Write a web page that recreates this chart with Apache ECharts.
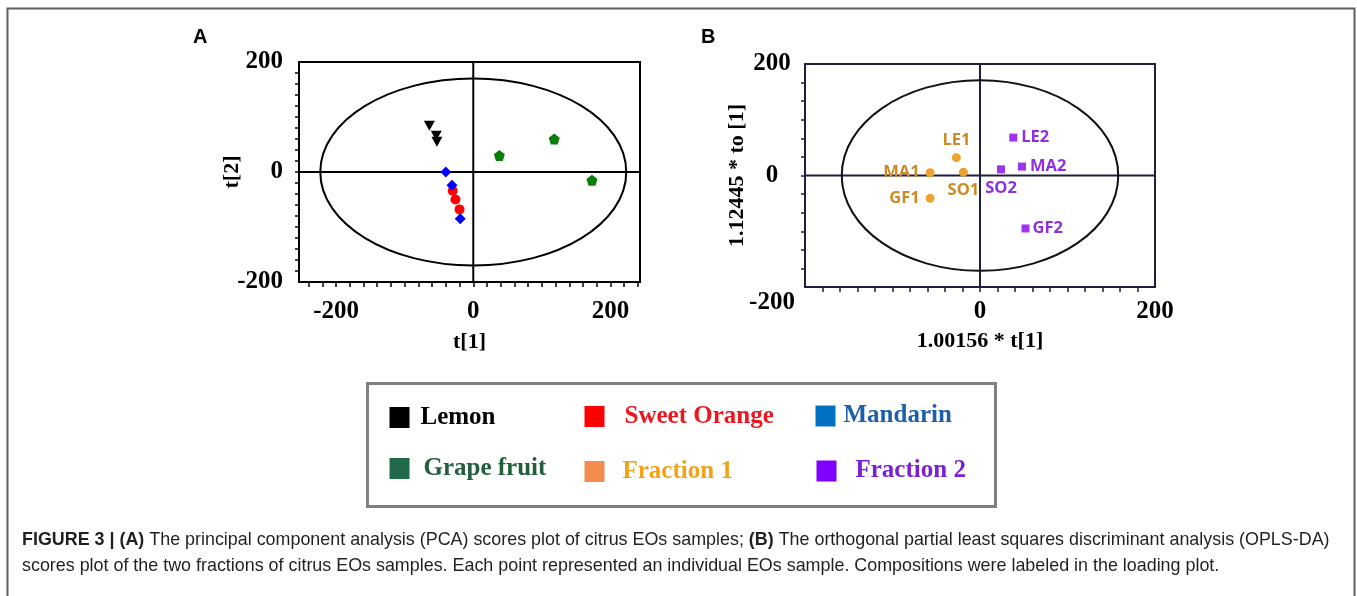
<!DOCTYPE html>
<html>
<head>
<meta charset="utf-8">
<script src="https://cdn.jsdelivr.net/npm/echarts@6/dist/echarts.min.js"></script>
<style>
html,body{margin:0;padding:0;background:#fff;}
#chart{width:1357px;height:596px;}
</style>
</head>
<body>
<div id="chart"></div>
<script>
// ---------- DATA ----------
// Panel A: PCA scores
const A_LEMON_X = [-64, -54, -53];
const A_LEMON_Y = [84, 66, 55];
const A_ORANGE_X = [-30, -26, -20];
const A_ORANGE_Y = [-34, -50, -68];
const A_MANDARIN_X = [-40, -31, -19];
const A_MANDARIN_Y = [0, -24, -85];
const A_GRAPE_X = [38, 118, 173];
const A_GRAPE_Y = [30, 60, -15];
const A_ELLIPSE = [223, 170];          // semi-axes of Hotelling ellipse (t[1], t[2])
const A_X_TICKS = [-240,-220,-200,-180,-160,-140,-120,-100,-80,-60,-40,-20,0,20,40,60,80,100,120,140,160,180,200,220,240];
const A_Y_TICKS = [-180,-160,-140,-120,-100,-80,-60,-40,-20,0,20,40,60,80,100,120,140,160,180];
const A_X_LABELS = [-200, 0, 200];
const A_Y_LABELS = [-200, 0, 200];

// Panel B: OPLS-DA scores
const B_F1_NAMES = ['LE1', 'SO1', 'MA1', 'GF1'];
const B_F1_X = [-27, -19, -57, -57];
const B_F1_Y = [32, 6, 5, -41];
const B_F2_NAMES = ['LE2', 'MA2', 'SO2', 'GF2'];
const B_F2_X = [38, 48, 24, 52];
const B_F2_Y = [68, 16, 11, -95];
const B_ELLIPSE = [158, 171];
const B_X_TICKS = [-180,-160,-140,-120,-100,-80,-60,-40,-20,0,20,40,60,80,100,120,140,160,180];
const B_Y_TICKS = [-166.67,-133.33,-100,-66.67,-33.33,0,33.33,66.67,100,133.33,166.67];
const B_X_LABELS = [0, 200];
const B_Y_LABELS = [-200, 0, 200];

const LEGEND_NAMES = ['Lemon', 'Sweet Orange', 'Mandarin', 'Grape fruit', 'Fraction 1', 'Fraction 2'];

// ---------- STYLE ----------
const SERIF = "'Liberation Serif','Times New Roman',serif";
const SANS = "'Liberation Sans',Arial,sans-serif";
const LABEL_SANS = "'Open Sans','Noto Sans',sans-serif";
const LABEL_POS = {
  LE1: ['top', 4], SO1: ['bottom', 5], MA1: ['left', 6], GF1: ['left', 6],
  LE2: ['right', 4], MA2: ['right', 4], SO2: ['bottom', 6], GF2: ['right', 3]
};
const LEGEND_STYLE = {
  'Lemon':        {left: 389.5, top: 405,   icon: '#000000', text: '#000000', gap: 6},
  'Sweet Orange': {left: 584.5, top: 404,   icon: '#FF0000', text: '#F0141C', gap: 15},
  'Mandarin':     {left: 815.5, top: 403.5, icon: '#0070C0', text: '#1D5FA8', gap: 3},
  'Grape fruit':  {left: 389.5, top: 456,   icon: '#21694A', text: '#215E3C', gap: 9},
  'Fraction 1':   {left: 584.5, top: 459,   icon: '#F58A4E', text: '#F2A218', gap: 13},
  'Fraction 2':   {left: 816.5, top: 458.5, icon: '#8000FF', text: '#7A1FD6', gap: 14}
};

function pts(xs, ys) { return xs.map((x, i) => [x, ys[i]]); }

function ellipseSeries(idx, semi, stroke, axisColor) {
  return {
    type: 'custom', xAxisIndex: idx, yAxisIndex: idx, silent: true, z: 1, clip: false,
    data: [[0, 0, semi[0], semi[1]]],
    renderItem: function (params, api) {
      const c = api.coord([api.value(0), api.value(1)]);
      const s = api.size([api.value(2), api.value(3)]);
      const cs = params.coordSys;
      return {
        type: 'group',
        children: [
          {type: 'line', shape: {x1: cs.x, y1: c[1], x2: cs.x + cs.width, y2: c[1]}, style: {stroke: axisColor, lineWidth: 2}},
          {type: 'line', shape: {x1: c[0], y1: cs.y, x2: c[0], y2: cs.y + cs.height}, style: {stroke: axisColor, lineWidth: 2}},
          {type: 'ellipse', shape: {cx: c[0], cy: c[1], rx: s[0], ry: s[1]}, style: {fill: 'none', stroke: stroke, lineWidth: 2}}
        ]
      };
    }
  };
}

function valueAxis(opt) {
  return Object.assign({
    type: 'value',
    splitLine: {show: false},
    axisLine: {show: true, onZero: false, lineStyle: {color: opt.color, width: 2}},
    axisTick: {show: true, length: opt.tickLen, customValues: opt.ticks, lineStyle: {color: opt.color, width: 1.5}},
    axisLabel: {
      customValues: opt.labels, margin: opt.margin, align: opt.align,
      fontFamily: SERIF, fontWeight: 'bold', fontSize: 25, color: '#000',
      lineHeight: 32, formatter: opt.formatter
    },
    nameLocation: 'middle',
    nameMoveOverlap: false,
    nameTextStyle: {fontFamily: SERIF, fontWeight: 'bold', fontSize: 22, color: '#000'}
  }, opt.extra);
}

const chart = echarts.init(document.getElementById('chart'), null, {renderer: 'canvas'});

const F1_DATA = B_F1_NAMES.map((n, i) => ({
  name: n, value: [B_F1_X[i], B_F1_Y[i]],
  label: {position: LABEL_POS[n][0], distance: LABEL_POS[n][1]}
}));
const F2_DATA = B_F2_NAMES.map((n, i) => ({
  name: n, value: [B_F2_X[i], B_F2_Y[i]],
  label: {position: LABEL_POS[n][0], distance: LABEL_POS[n][1]}
}));

const legends = LEGEND_NAMES.map(n => {
  const s = LEGEND_STYLE[n];
  return {
    left: s.left, top: s.top, padding: 0, orient: 'horizontal',
    itemWidth: 20, itemHeight: 21, selectedMode: false,
    data: [{name: n, icon: 'rect', itemStyle: {color: s.icon, borderWidth: 0}}],
    textStyle: {fontFamily: SERIF, fontWeight: 'bold', fontSize: 25, color: s.text, lineHeight: 21, padding: [0, 0, 0, s.gap]}
  };
});

const option = {
  backgroundColor: '#ffffff',
  animation: false,
  title: [
    {text: 'A', left: 193, top: 27, padding: 0, textStyle: {fontFamily: SANS, fontWeight: 'bold', fontSize: 20, color: '#000'}},
    {text: 'B', left: 701, top: 27, padding: 0, textStyle: {fontFamily: SANS, fontWeight: 'bold', fontSize: 20, color: '#000'}},
    {
      text: '{b|FIGURE 3 | (A)} The principal component analysis (PCA) scores plot of citrus EOs samples; {b|(B)} The orthogonal partial least squares discriminant analysis (OPLS-DA)\nscores plot of the two fractions of citrus EOs samples. Each point represented an individual EOs sample. Compositions were labeled in the loading plot.',
      left: 22, top: 527, padding: 0,
      textStyle: {
        fontFamily: SANS, fontWeight: 'normal', fontSize: 17.9, color: '#231f20', lineHeight: 26,
        rich: {b: {fontFamily: SANS, fontWeight: 'bold', fontSize: 17.9, color: '#231f20', lineHeight: 26}}
      }
    }
  ],
  legend: legends,
  graphic: [
    {type: 'rect', silent: true, z: -1, shape: {x: 7.5, y: 8.5, width: 1347, height: 640}, style: {fill: 'none', stroke: '#5f5f5f', lineWidth: 2}},
    {type: 'rect', silent: true, z: -1, shape: {x: 367.5, y: 383.5, width: 628, height: 123}, style: {fill: 'none', stroke: '#808080', lineWidth: 3}}
  ],
  grid: [
    {left: 299, top: 62, width: 341, height: 220, show: true, borderColor: '#000', borderWidth: 2, backgroundColor: 'transparent', containLabel: false},
    {left: 805, top: 64, width: 350, height: 223, show: true, borderColor: '#1e1e40', borderWidth: 2, backgroundColor: 'transparent', containLabel: false}
  ],
  xAxis: [
    valueAxis({color: '#000', tickLen: 5, ticks: A_X_TICKS, labels: A_X_LABELS, margin: 14, align: 'center',
      extra: {gridIndex: 0, min: -254, max: 243, name: 't[1]', nameGap: 49}}),
    valueAxis({color: '#1e1e40', tickLen: 5, ticks: B_X_TICKS, labels: B_X_LABELS, margin: 9, align: 'center',
      extra: {gridIndex: 1, min: -200, max: 200, name: '1.00156 * t[1]', nameGap: 43}})
  ],
  yAxis: [
    valueAxis({color: '#000', tickLen: 4, ticks: A_Y_TICKS, labels: A_Y_LABELS, margin: 16, align: 'right',
      extra: {gridIndex: 0, min: -200, max: 200, name: 't[2]', nameGap: 56}}),
    valueAxis({color: '#1e1e40', tickLen: 4, ticks: B_Y_TICKS, labels: B_Y_LABELS, margin: 33, align: 'center',
      formatter: v => (v === -200 ? '\n-200' : String(v)),
      extra: {gridIndex: 1, min: -200, max: 200, name: '1.12445 * to [1]', nameGap: 57}})
  ],
  series: [
    ellipseSeries(0, A_ELLIPSE, '#000', '#000'),
    ellipseSeries(1, B_ELLIPSE, '#111', '#1e1e40'),
    {name: 'Lemon', type: 'scatter', xAxisIndex: 0, yAxisIndex: 0, symbol: 'triangle', symbolRotate: 180,
      symbolSize: [11, 10], itemStyle: {color: '#000', opacity: 1}, data: pts(A_LEMON_X, A_LEMON_Y)},
    {name: 'Sweet Orange', type: 'scatter', xAxisIndex: 0, yAxisIndex: 0, symbol: 'circle',
      symbolSize: 10, itemStyle: {color: '#FF0000', opacity: 1}, data: pts(A_ORANGE_X, A_ORANGE_Y)},
    {name: 'Mandarin', type: 'scatter', xAxisIndex: 0, yAxisIndex: 0, symbol: 'diamond',
      symbolSize: [11, 11], itemStyle: {color: '#0000FF', opacity: 1}, data: pts(A_MANDARIN_X, A_MANDARIN_Y)},
    {name: 'Grape fruit', type: 'scatter', xAxisIndex: 0, yAxisIndex: 0,
      symbol: 'path://M0,-10 L9.51,-3.09 L5.88,8.09 L-5.88,8.09 L-9.51,-3.09 Z',
      symbolSize: 11, itemStyle: {color: '#0a7d0a', opacity: 1}, data: pts(A_GRAPE_X, A_GRAPE_Y)},
    {name: 'Fraction 1', type: 'scatter', xAxisIndex: 1, yAxisIndex: 1, symbol: 'circle', symbolSize: 9,
      itemStyle: {color: '#EBA22F', opacity: 1},
      label: {show: true, formatter: '{b}', fontFamily: LABEL_SANS, fontWeight: 'bold', fontSize: 16.5, color: '#CD8A22'},
      data: F1_DATA},
    {name: 'Fraction 2', type: 'scatter', xAxisIndex: 1, yAxisIndex: 1, symbol: 'rect', symbolSize: 8,
      itemStyle: {color: '#A033F0', opacity: 1},
      label: {show: true, formatter: '{b}', fontFamily: LABEL_SANS, fontWeight: 'bold', fontSize: 16.5, color: '#8E30E0'},
      data: F2_DATA}
  ]
};

chart.setOption(option);
</script>
</body>
</html>
